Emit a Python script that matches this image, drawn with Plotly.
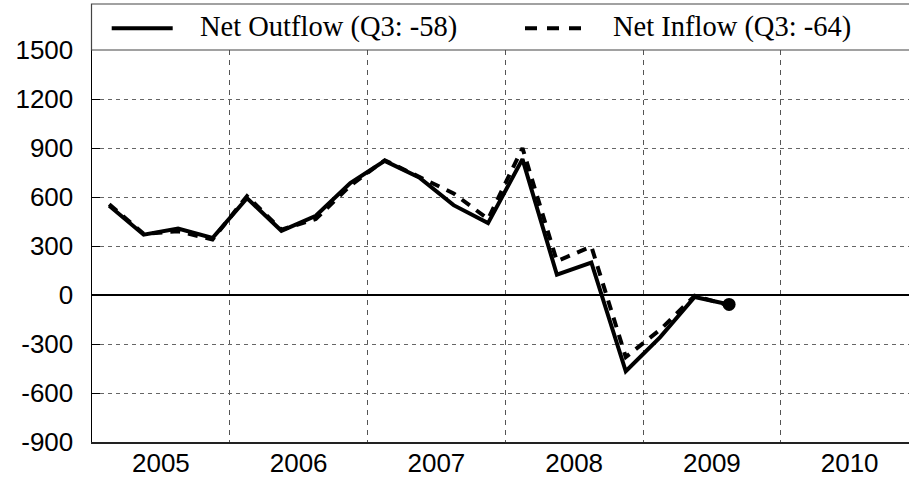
import plotly.graph_objects as go

# ---- data ----
years = [2005] * 4 + [2006] * 4 + [2007] * 4 + [2008] * 4 + [2009] * 3
quarters = [1, 2, 3, 4] * 4 + [1, 2, 3]
net_outflow = [546, 369, 407, 349, 593, 393, 485, 685, 821, 719, 550, 440,
               832, 124, 199, -467, -258, -12, -58]
net_inflow = [555, 375, 390, 340, 605, 400, 465, 670, 825, 722, 622, 465,
              900, 207, 297, -380, -212, -5, -64]
year_labels = ["2005", "2006", "2007", "2008", "2009", "2010"]
y_ticks = [-900, -600, -300, 0, 300, 600, 900, 1200, 1500]
legend_names = ["Net Outflow (Q3: -58)", "Net Inflow (Q3: -64)"]

x_vals = [y + (q - 0.5) / 4 for y, q in zip(years, quarters)]
year_nums = [int(s) for s in year_labels]

# ---- layout geometry ----
W, H = 909, 479
ML, MR, MT, MB = 92, 0, 50, 37
PW, PH = W - ML - MR, H - MT - MB


def px_x(p):
    return (p - ML) / PW


def px_y(p):
    return (H - MB - p) / PH


fig = go.Figure()
fig.add_trace(go.Scatter(x=x_vals, y=net_inflow, mode="lines",
                         line=dict(color="black", width=4, dash="10px,8px"),
                         name=legend_names[1], showlegend=False))
fig.add_trace(go.Scatter(x=x_vals, y=net_outflow, mode="lines",
                         line=dict(color="black", width=4),
                         name=legend_names[0], showlegend=False))
fig.add_trace(go.Scatter(x=[x_vals[-1]], y=[net_outflow[-1]], mode="markers",
                         marker=dict(color="black", size=13),
                         showlegend=False, hoverinfo="skip"))

grid_col = "#666666"
fig.update_xaxes(
    range=[2005, 2005 + PW / 137.75], automargin=False,
    tickvals=[v + 0.5 for v in year_nums], ticktext=year_labels,
    showgrid=False, zeroline=False,
    showline=True, linecolor="#222222", linewidth=1.5,
    ticks="", ticklabelstandoff=-3,
    tickfont=dict(family="Liberation Sans, Arial", size=26, color="black"),
    minor=dict(tickvals=year_nums[1:], showgrid=True, gridcolor="#555555",
               griddash="5px,5px", gridwidth=1, ticks=""),
)
fig.update_yaxes(
    range=[-900, 1500], tickvals=y_ticks, ticktext=[str(v) for v in y_ticks],
    automargin=False,
    showgrid=True, gridcolor=grid_col, griddash="4px,4px", gridwidth=1,
    zeroline=True, zerolinecolor="black", zerolinewidth=2.5,
    showline=True, linecolor="black", linewidth=1.5,
    ticks="inside", ticklen=8, tickcolor="black", tickwidth=1,
    ticklabelstandoff=12,
    tickfont=dict(family="Liberation Sans, Arial", size=26, color="black"),
)

# ---- legend box drawn at top ----
shapes = [
    dict(type="rect", xref="paper", yref="paper",
         x0=px_x(91.5), x1=px_x(915), y0=px_y(50), y1=px_y(4),
         line=dict(color="#444444", width=1.2), fillcolor="white", layer="above"),
    dict(type="line", xref="paper", yref="paper",
         x0=px_x(111.7), x1=px_x(172.7), y0=px_y(28.3), y1=px_y(28.3),
         line=dict(color="black", width=4)),
    dict(type="line", xref="paper", yref="paper",
         x0=px_x(525), x1=px_x(581), y0=px_y(28.3), y1=px_y(28.3),
         line=dict(color="black", width=4, dash="12px,10px")),
]
annotations = [
    dict(text=legend_names[0], xref="paper", yref="paper",
         x=px_x(198), y=px_y(27), xanchor="left", yanchor="middle",
         showarrow=False,
         font=dict(family="Liberation Serif, Times New Roman", size=28.5, color="black")),
    dict(text=legend_names[1], xref="paper", yref="paper",
         x=px_x(611), y=px_y(27), xanchor="left", yanchor="middle",
         showarrow=False,
         font=dict(family="Liberation Serif, Times New Roman", size=28.5, color="black")),
]

fig.update_layout(
    width=W, height=H, autosize=False,
    margin=dict(l=ML, r=MR, t=MT, b=MB, pad=0, autoexpand=False),
    paper_bgcolor="white", plot_bgcolor="white",
    shapes=shapes, annotations=annotations, showlegend=False,
)

fig.write_html(
    "out.html",
    config={"displayModeBar": False, "staticPlot": True},
    post_script="document.body.style.margin='0';document.body.style.overflow='hidden';",
)
